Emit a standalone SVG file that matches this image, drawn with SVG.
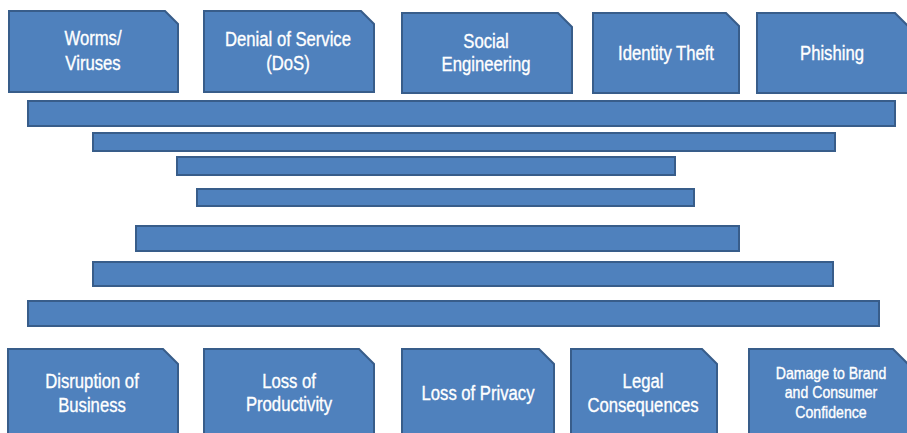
<svg xmlns="http://www.w3.org/2000/svg" width="907" height="433" viewBox="0 0 907 433">
<style>
.box{fill:#4F81BD;stroke:#385D8A;stroke-width:2}
.bar{fill:#4F81BD;stroke:#385D8A;stroke-width:2}
text{fill:#FFFFFF;stroke:#FFFFFF;stroke-width:0.35;font-family:"Liberation Sans",Arial,sans-serif;font-size:19.5px;text-anchor:middle}
.sm{font-size:16.5px}
</style>
<rect width="907" height="433" fill="#FFFFFF"/>
<g id="worms"><path class="box" d="M9,11 H165 L178,24 V92 H9 Z"/><g transform="translate(93,0) scale(0.855,1)"><text x="0" y="45">Worms/</text><text x="0" y="70">Viruses</text></g></g>
<g id="dos"><path class="box" d="M204,11 H361 L374,24 V92 H204 Z"/><g transform="translate(288,0) scale(0.855,1)"><text x="0" y="46">Denial of Service</text><text x="0" y="70">(DoS)</text></g></g>
<g id="social"><path class="box" d="M402,13 H558 L572,27 V93 H402 Z"/><g transform="translate(486,0) scale(0.855,1)"><text x="0" y="48">Social</text><text x="0" y="71">Engineering</text></g></g>
<g id="identity"><path class="box" d="M593,13 H726 L739,26 V93 H593 Z"/><g transform="translate(666,0) scale(0.855,1)"><text x="0" y="60">Identity Theft</text></g></g>
<g id="phishing"><path class="box" d="M757,13 H895 L908,26 V93 H757 Z"/><g transform="translate(832,0) scale(0.855,1)"><text x="0" y="60">Phishing</text></g></g>
<g id="bars">
<rect class="bar" x="28" y="101" width="867" height="25"/>
<rect class="bar" x="93" y="133" width="742" height="18"/>
<rect class="bar" x="177" y="157" width="498" height="18"/>
<rect class="bar" x="197" y="189" width="497" height="17"/>
<rect class="bar" x="136" y="226" width="603" height="25"/>
<rect class="bar" x="93" y="262" width="740" height="24"/>
<rect class="bar" x="28" y="301" width="851" height="25"/>
</g>
<g id="disruption"><path class="box" d="M8,349 H163 L178,364 V440 H8 Z"/><g transform="translate(92,0) scale(0.855,1)"><text x="0" y="388">Disruption of</text><text x="0" y="412">Business</text></g></g>
<g id="productivity"><path class="box" d="M204,349 H359 L374,364 V440 H204 Z"/><g transform="translate(289,0) scale(0.855,1)"><text x="0" y="388">Loss of</text><text x="0" y="411">Productivity</text></g></g>
<g id="privacy"><path class="box" d="M402,349 H539 L554,364 V440 H402 Z"/><g transform="translate(478,0) scale(0.855,1)"><text x="0" y="400">Loss of Privacy</text></g></g>
<g id="legal"><path class="box" d="M571,349 H702 L717,364 V440 H571 Z"/><g transform="translate(643,0) scale(0.855,1)"><text x="0" y="388">Legal</text><text x="0" y="412">Consequences</text></g></g>
<g id="damage"><path class="box" d="M749,349 H893 L908,364 V440 H749 Z"/><g transform="translate(831,0) scale(0.855,1)"><text class="sm" x="0" y="379">Damage to Brand</text><text class="sm" x="0" y="398">and Consumer</text><text class="sm" x="0" y="418">Confidence</text></g></g>
</svg>
